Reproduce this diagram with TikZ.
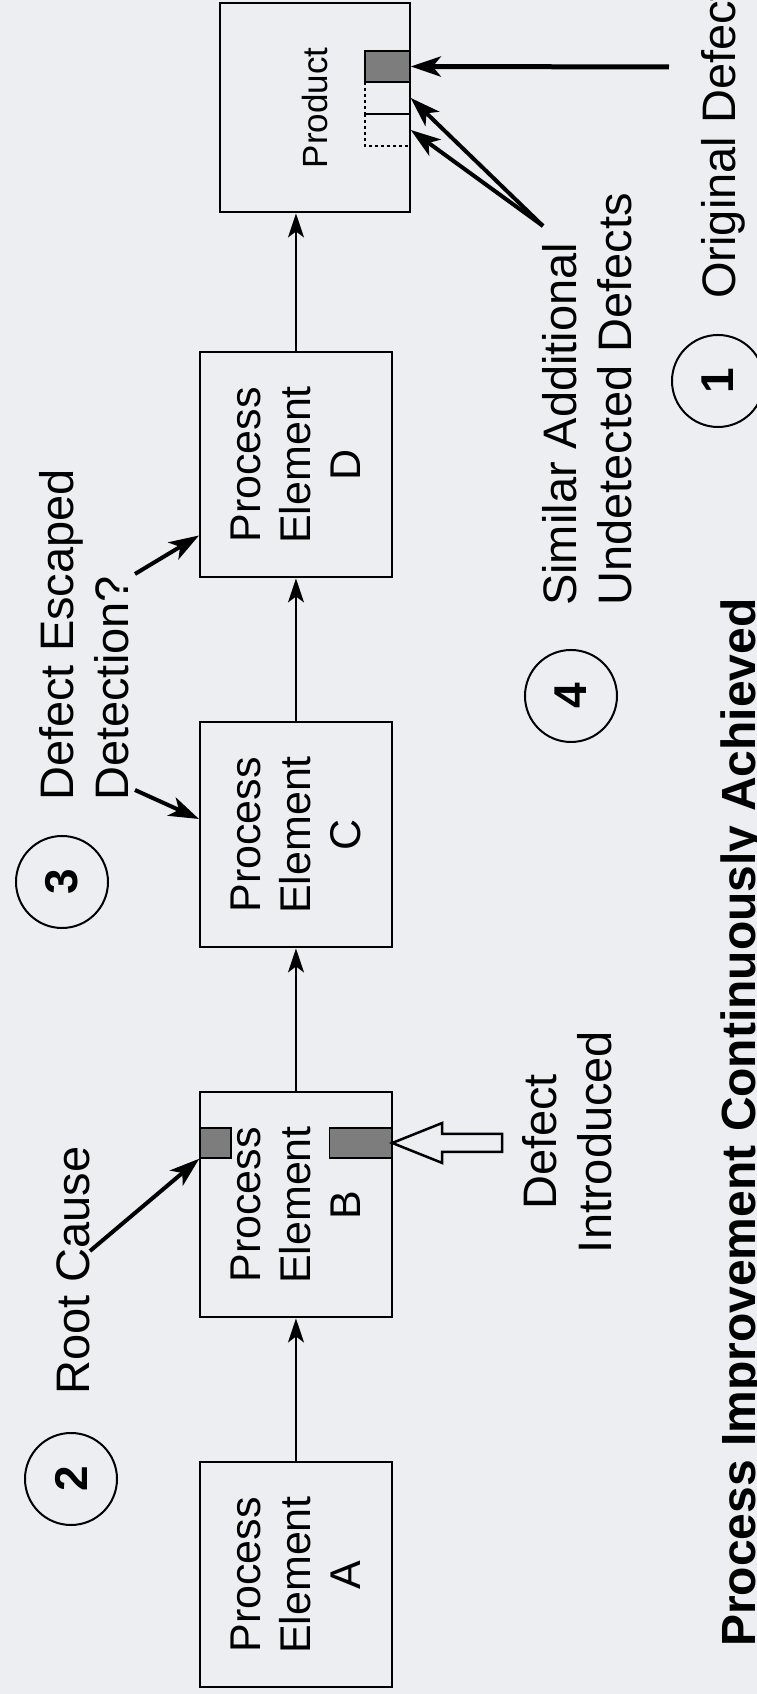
\documentclass[tikz,border=0pt]{standalone}
\usepackage{fontspec}
\setmainfont{Liberation Sans}
\usetikzlibrary{arrows.meta,positioning,calc}
\definecolor{paper}{RGB}{237,238,241}
\definecolor{defectgray}{RGB}{125,125,125}
\newcommand{\Num}[1]{{\fontsize{46}{46}\selectfont\bfseries #1}}

\begin{document}
\begin{tikzpicture}[x=1pt, y=1pt, rotate=90, transform shape,
    elem/.style={draw, line width=2pt, fill=paper, minimum width=225pt, minimum height=192pt,
      align=center, font=\fontsize{43}{50}\selectfont},
    note/.style={align=left, inner sep=0pt, font=\fontsize{47}{55}\selectfont},
    numcirc/.style={draw, circle, line width=2pt, minimum size=92pt, inner sep=0pt},
    bar/.style={draw, line width=1.5pt, inner sep=0pt, minimum width=31pt, minimum height=45pt},
    flow/.style={-{Stealth[length=24pt,width=16pt,inset=6pt]}, line width=2pt},
    pointer/.style={-{Stealth[length=30pt,width=20pt,inset=8pt]}, line width=4pt}]

            \useasboundingbox (0,0) rectangle (1694,757);
            \fill[paper] (0,0) rectangle (1694,757);

            % process chain
            \draw(119,461) node[elem] (A) {Process\\Element\\A};
            \draw(489,461) node[elem] (B) {Process\\Element\\B};
            \draw(859,461) node[elem] (C) {Process\\Element\\C};
            \draw(1229,461) node[elem] (D) {Process\\Element\\D};
            \draw(1586,442) node[elem, minimum width=209pt, minimum height=190pt,
              font=\fontsize{35}{35}\selectfont] (P) {Product};
            \draw[flow] (A) -- (B);
            \draw[flow] (B) -- (C);
            \draw[flow] (C) -- (D);
            \draw[flow] (D.east) -- (D.east -| P.west);

            % defects
            \draw(551,541.5) node[bar, fill=defectgray, minimum height=31pt, minimum width=30pt] (rootbar) {};
            \draw(551,396.5) node[bar, fill=defectgray, minimum height=62pt, minimum width=30pt] (inbar) {};
            \draw(1627.5,369.5) node[bar, fill=defectgray] (origbar) {};
            \draw(1596,369.5) node[bar, dashed, minimum width=32pt] (dashA) {};
            \draw(1564,369.5) node[bar, dashed, minimum width=32pt] (dashB) {};

            % numbered notes
            \draw(215,686) node[numcirc] (n2) {\Num{2}};
            \draw(812,695) node[numcirc] (n3) {\Num{3}};
            \draw(998,186) node[numcirc] (n4) {\Num{4}};
            \draw(1313,39) node[numcirc] (n1) {\Num{1}};

            \draw(299,667) node[note, anchor=base west] (rootcause) {Root Cause};
            \draw(893,673) node[note, anchor=west] (escaped) {Defect Escaped\\Detection?};
            \draw(552,190) node[note, align=center] (introduced) {Defect\\Introduced};
            \draw(1088,170) node[note, anchor=west] (similar) {Similar Additional\\Undetected Defects};
            \draw(1395,22) node[note, anchor=base west] (original) {Original Defect};
            \draw(47,2) node[anchor=base west, inner sep=0pt,
              font=\bfseries\fontsize{48}{48}\selectfont] (title) {Process Improvement Continuously Achieved};

            % pointers
            \coordinate (rootfrom) at (443,667);
            \coordinate (escfromC) at (904,622);
            \coordinate (escfromD) at (1120,622);
            \coordinate (simfrom) at (1468,214);
            \coordinate (origfrom) at (1627,88);
            \draw[pointer] (rootfrom) -- (rootbar.north west);
            \draw[pointer] (escfromC) -- ($(C.north)+(16,0)$);
            \draw[pointer] (escfromD) -- ($(D.north west)+(43,0)$);
            \draw[pointer] (simfrom) -- (dashA.south);
            \draw[pointer] (simfrom) -- (dashB.south);
            \draw[pointer, line width=5pt] (origfrom) -- (origbar.south);
            \draw[line width=2.5pt, fill=paper] (inbar.south) -- ++(-20,-50) -- ++(11,0) -- ++(0,-60)
              -- ++(18,0) -- ++(0,60) -- ++(11,0) -- cycle;

        \end{tikzpicture}
\end{document}
